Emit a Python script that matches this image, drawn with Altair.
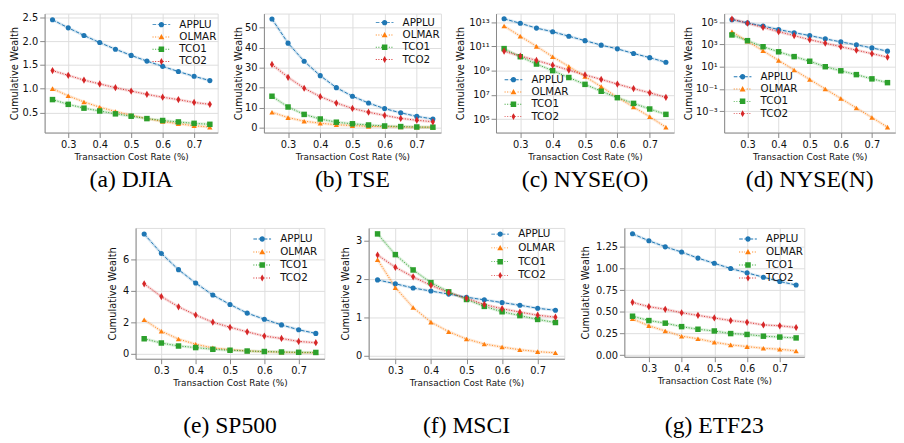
import math
import altair as alt
import pandas as pd

X = [0.25, 0.30, 0.35, 0.40, 0.45, 0.50, 0.55, 0.60, 0.65, 0.70, 0.75]
METHODS = ["APPLU", "OLMAR", "TCO1", "TCO2"]
COLORS = ["#1f77b4", "#ff7f0e", "#2ca02c", "#d62728"]
X_TICKS = [0.3, 0.4, 0.5, 0.6, 0.7]

# (a) DJIA
DJIA_APPLU = [2.45, 2.28, 2.12, 1.97, 1.83, 1.70, 1.58, 1.47, 1.36, 1.26, 1.17]
DJIA_OLMAR = [1.00, 0.85, 0.72, 0.61, 0.52, 0.44, 0.37, 0.31, 0.26, 0.22, 0.19]
DJIA_TCO1 = [0.77, 0.67, 0.59, 0.53, 0.47, 0.42, 0.37, 0.33, 0.30, 0.27, 0.25]
DJIA_TCO2 = [1.38, 1.28, 1.18, 1.10, 1.02, 0.95, 0.88, 0.82, 0.77, 0.71, 0.67]
# (b) TSE
TSE_APPLU = [54.4, 42.3, 33.2, 26.0, 20.0, 15.7, 12.3, 9.5, 7.4, 5.6, 4.3]
TSE_OLMAR = [7.7, 5.0, 3.2, 2.2, 1.4, 1.0, 0.6, 0.5, 0.3, 0.2, 0.2]
TSE_TCO1 = [15.7, 10.3, 6.6, 4.3, 2.7, 1.9, 1.3, 0.8, 0.5, 0.3, 0.2]
TSE_TCO2 = [31.6, 25.2, 19.7, 15.5, 12.3, 9.6, 7.7, 6.1, 4.6, 3.7, 2.9]
# (c) NYSE(O)
NYSEO_APPLU = [1.86e13, 7.9e12, 3.2e12, 1.6e12, 6.8e11, 2.95e11, 1.26e11, 6.2e10, 2.6e10, 1.17e10, 4.9e9]
NYSEO_OLMAR = [4.8e12, 6.8e11, 1.0e11, 1.4e10, 2.2e9, 3.3e8, 4.8e7, 6.3e6, 1.0e6, 1.6e5, 2.2e4]
NYSEO_TCO1 = [6.5e10, 1.4e10, 3.5e9, 1.0e9, 2.7e8, 7.4e7, 2.0e7, 5.9e6, 2.0e6, 6.9e5, 2.5e5]
NYSEO_TCO2 = [4.0e10, 1.6e10, 6.9e9, 2.8e9, 1.1e9, 4.4e8, 1.9e8, 7.8e7, 3.3e7, 1.5e7, 6.3e6]
# (d) NYSE(N)
NYSEN_APPLU = [1.7e5, 8.7e4, 4.6e4, 2.2e4, 1.15e4, 6.3e3, 3.2e3, 1.7e3, 930, 490, 250]
NYSEN_OLMAR = [1.4e4, 1.95e3, 270, 37, 5.1, 0.72, 0.1, 0.014, 1.95e-3, 2.7e-4, 3.7e-5]
NYSEN_TCO1 = [7.2e3, 2.2e3, 630, 220, 81, 31, 10, 4.3, 1.95, 0.81, 0.37]
NYSEN_TCO2 = [1.95e5, 8.1e4, 3.5e4, 1.4e4, 6.3e3, 2.7e3, 1.3e3, 630, 310, 150, 72]
# (e) SP500
SP500_APPLU = [7.6, 6.36, 5.33, 4.48, 3.72, 3.12, 2.57, 2.18, 1.82, 1.51, 1.28]
SP500_OLMAR = [2.15, 1.42, 0.92, 0.59, 0.36, 0.25, 0.17, 0.12, 0.09, 0.06, 0.05]
SP500_TCO1 = [0.94, 0.67, 0.48, 0.38, 0.27, 0.21, 0.16, 0.13, 0.10, 0.08, 0.07]
SP500_TCO2 = [4.43, 3.62, 2.97, 2.45, 1.99, 1.67, 1.38, 1.11, 0.96, 0.77, 0.69]
# (f) MSCI
MSCI_APPLU = [1.98, 1.88, 1.77, 1.69, 1.61, 1.53, 1.46, 1.39, 1.32, 1.24, 1.19]
MSCI_OLMAR = [2.51, 1.78, 1.26, 0.88, 0.63, 0.44, 0.31, 0.23, 0.16, 0.11, 0.08]
MSCI_TCO1 = [3.18, 2.64, 2.24, 1.91, 1.67, 1.47, 1.29, 1.15, 1.05, 0.95, 0.87]
MSCI_TCO2 = [2.63, 2.31, 2.06, 1.84, 1.65, 1.50, 1.34, 1.23, 1.14, 1.06, 1.01]
# (g) ETF23
ETF_APPLU = [1.40, 1.32, 1.25, 1.19, 1.12, 1.06, 1.00, 0.95, 0.90, 0.85, 0.81]
ETF_OLMAR = [0.42, 0.34, 0.28, 0.22, 0.19, 0.15, 0.12, 0.10, 0.08, 0.07, 0.05]
ETF_TCO1 = [0.45, 0.40, 0.37, 0.33, 0.30, 0.28, 0.25, 0.24, 0.22, 0.21, 0.20]
ETF_TCO2 = [0.61, 0.56, 0.53, 0.49, 0.46, 0.43, 0.40, 0.38, 0.35, 0.34, 0.32]

# ---------- styling helpers ----------
DASHES = [[3.7, 1.6], [1, 1.65], [1, 1.65], [1, 1.65]]
THIN_DIAMOND = "M0,-1.28L0.73,0L0,1.28L-0.73,0Z"
POINT_SHAPES = ["circle", "triangle-up", "square", THIN_DIAMOND]

LEG_UNIT = 4.5  # px per path unit when symbolSize = 81


def legend_path(kind, dash):
    u = LEG_UNIT
    if kind == "circle":
        r = 2.7 / u
        marker = f"M{-r:.3f},0A{r:.3f},{r:.3f} 0 1,1 {r:.3f},0A{r:.3f},{r:.3f} 0 1,1 {-r:.3f},0Z"
        rm = r
    elif kind == "tri":
        w = 3.0 / u
        h = 3.0 / u
        marker = f"M0,{-h:.3f}L{w:.3f},{h*0.8:.3f}L{-w:.3f},{h*0.8:.3f}Z"
        rm = w
    elif kind == "sq":
        s = 2.8 / u
        marker = f"M{-s:.3f},{-s:.3f}L{s:.3f},{-s:.3f}L{s:.3f},{s:.3f}L{-s:.3f},{s:.3f}Z"
        rm = s
    else:
        h = 3.5 / u
        w = 2.0 / u
        marker = f"M0,{-h:.3f}L{w:.3f},0L0,{h:.3f}L{-w:.3f},0Z"
        rm = w
    t = 0.45 / u
    segs = []
    on, off = dash[0] / u, dash[1] / u
    x = -2.0
    while x < 2.0:
        x0, x1 = x, min(x + on, 2.0)
        for lo, hi in ((x0, min(x1, -rm)), (max(x0, rm), x1)):
            if hi - lo > 0.02:
                segs.append(f"M{lo:.3f},{-t:.3f}L{hi:.3f},{-t:.3f}L{hi:.3f},{t:.3f}L{lo:.3f},{t:.3f}Z")
        x += on + off
    return "".join(segs) + marker


LEG_SHAPES = [legend_path(k, dsh) for k, dsh in zip(["circle", "tri", "sq", "dia"], DASHES)]

SUP = {"-": "\u207b", "0": "\u2070", "1": "\u00b9", "2": "\u00b2", "3": "\u00b3", "4": "\u2074",
       "5": "\u2075", "6": "\u2076", "7": "\u2077", "8": "\u2078", "9": "\u2079"}


def log_label_expr(exps):
    expr = "''"
    for ex in exps:
        lab = "10" + "".join(SUP[ch] for ch in str(ex))
        expr = f"round(log(datum.value)/LN10) == {ex} ? '{lab}' : ({expr})"
    return expr


AX_COMMON = dict(titleFontWeight="normal", titleFont="DejaVu Sans", titleColor="#111",
                 labelFont="DejaVu Sans", labelColor="#111")


def panel(series, caption, width, height, ydomain, yticks, log=False, yfmt=None,
          legxy=(0, 0), rowpad=2.0, ext=20, tpad=4, cap_offset=5, title_pad=3):
    rows = []
    for m, vals in zip(METHODS, series):
        for xv, v in zip(X, vals):
            rows.append({"x": xv, "method": m, "y": v, "lg": m})
    df = pd.DataFrame(rows)

    if log:
        yscale = alt.Scale(type="log", domain=ydomain, nice=False)
        exps = [int(round(math.log10(v))) for v in yticks]
        yaxis = alt.Axis(values=yticks, title="Cumulative Wealth", labelExpr=log_label_expr(exps),
                         minExtent=ext, maxExtent=ext, titlePadding=tpad, titleFontSize=10,
                         **AX_COMMON)
    else:
        yaxis = alt.Axis(values=yticks, title="Cumulative Wealth", format=yfmt,
                         minExtent=ext, maxExtent=ext, titlePadding=tpad, titleFontSize=10,
                         **AX_COMMON)
        yscale = alt.Scale(domain=ydomain, nice=False, zero=False)

    xenc = alt.X("x:Q", scale=alt.Scale(domain=[0.225, 0.775], nice=False, zero=False),
                 axis=alt.Axis(values=X_TICKS, format=".1f", title="Transaction Cost Rate (%)",
                               titlePadding=title_pad, titleFontSize=9, **AX_COMMON))
    base = alt.Chart(df).encode(x=xenc, y=alt.Y("y:Q", scale=yscale, axis=yaxis))
    col = alt.Color("method:N", scale=alt.Scale(domain=METHODS, range=COLORS), legend=None)

    band = base.mark_line(strokeWidth=3, opacity=0.16).encode(color=col)
    line = base.mark_line(strokeWidth=1).encode(
        color=col,
        strokeDash=alt.StrokeDash("method:N", scale=alt.Scale(domain=METHODS, range=DASHES), legend=None),
    )
    pts = base.mark_point(filled=True, opacity=1).encode(
        color=col,
        shape=alt.Shape("method:N", scale=alt.Scale(domain=METHODS, range=POINT_SHAPES), legend=None),
        size=alt.Size("method:N", scale=alt.Scale(domain=METHODS, range=[27, 33, 27, 27]), legend=None),
    )
    leg_common = dict(orient="none", legendX=legxy[0], legendY=legxy[1], title=None,
                      symbolSize=81, labelFont="DejaVu Sans", labelFontSize=10.5, labelColor="#111",
                      labelOffset=13, rowPadding=rowpad, padding=0, symbolStrokeWidth=0,
                      symbolOpacity=1)
    leg = base.transform_filter("false").mark_point(filled=True, opacity=1).encode(
        color=alt.Color("lg:N", scale=alt.Scale(domain=METHODS, range=COLORS),
                        legend=alt.Legend(**leg_common)),
        shape=alt.Shape("lg:N", scale=alt.Scale(domain=METHODS, range=LEG_SHAPES),
                        legend=alt.Legend(**leg_common)),
    )
    ch = alt.layer(band, line, pts, leg).resolve_scale(
        color="independent", shape="independent", strokeDash="independent", size="independent"
    ).properties(
        width=width, height=height,
        title=alt.TitleParams(caption, orient="bottom", anchor="middle", font="Liberation Serif",
                              fontSize=24, fontWeight="normal", color="black", offset=cap_offset),
    )
    return ch


a = panel([DJIA_APPLU, DJIA_OLMAR, DJIA_TCO1, DJIA_TCO2], "(a) DJIA", 176, 121,
          [0.076, 2.58], [0.5, 1.0, 1.5, 2.0, 2.5], yfmt=".1f", legxy=(113.5, 6), ext=22, tpad=4,
          rowpad=1.5, cap_offset=7)
b = panel([TSE_APPLU, TSE_OLMAR, TSE_TCO1, TSE_TCO2], "(b) TSE", 180, 121,
          [-2.5, 57.1], [0, 10, 20, 30, 40, 50], yfmt="d", legxy=(117.5, 4), ext=17, tpad=4,
          rowpad=1.5, cap_offset=7)
c = panel([NYSEO_APPLU, NYSEO_OLMAR, NYSEO_TCO1, NYSEO_TCO2], "(c) NYSE(O)", 181, 121,
          [7.9e3, 5.0e13], [1e5, 1e7, 1e9, 1e11, 1e13], log=True, legxy=(12.5, 62), ext=28, tpad=3,
          rowpad=1.5, cap_offset=7)
d = panel([NYSEN_APPLU, NYSEN_OLMAR, NYSEN_TCO1, NYSEN_TCO2], "(d) NYSE(N)", 174, 121,
          [1.2e-5, 6.0e5], [1e-3, 1e-1, 1e1, 1e3, 1e5], log=True, legxy=(13.5, 59), ext=28, tpad=3,
          rowpad=1.5, cap_offset=7)
e = panel([SP500_APPLU, SP500_OLMAR, SP500_TCO1, SP500_TCO2], "(e) SP500", 192, 133,
          [-0.33, 7.98], [0, 2, 4, 6], yfmt="d", legxy=(123.5, 6), ext=14, tpad=4, rowpad=2.2,
          cap_offset=28)
f = panel([MSCI_APPLU, MSCI_OLMAR, MSCI_TCO1, MSCI_TCO2], "(f) MSCI", 199, 133,
          [-0.075, 3.335], [0, 1, 2, 3], yfmt="d", legxy=(128.5, 1), ext=14, tpad=4, rowpad=3.0,
          cap_offset=28)
g = panel([ETF_APPLU, ETF_OLMAR, ETF_TCO1, ETF_TCO2], "(g) ETF23", 183, 131,
          [-0.0175, 1.4675], [0, 0.25, 0.5, 0.75, 1.0, 1.25], yfmt=".2f", legxy=(120.5, 6),
          ext=27, tpad=7, rowpad=2.2, cap_offset=30)

top = alt.hconcat(a, alt.hconcat(b, alt.hconcat(c, d, spacing=8), spacing=13), spacing=14)
bottom = alt.hconcat(e, f, g, spacing=15)

chart = alt.vconcat(top, bottom, spacing=35, center=True).properties(
    padding={"left": 0, "top": 0, "right": 0, "bottom": 0}
).configure_view(
    stroke="black", strokeWidth=0.8
).configure_axis(
    domain=False, grid=False, ticks=True, tickSize=3.5, tickWidth=0.8, tickColor="black",
    labelFontSize=9.5, labelPadding=2,
).configure(background="white")

chart.save("out.html", embed_options={"renderer": "svg", "actions": False})
